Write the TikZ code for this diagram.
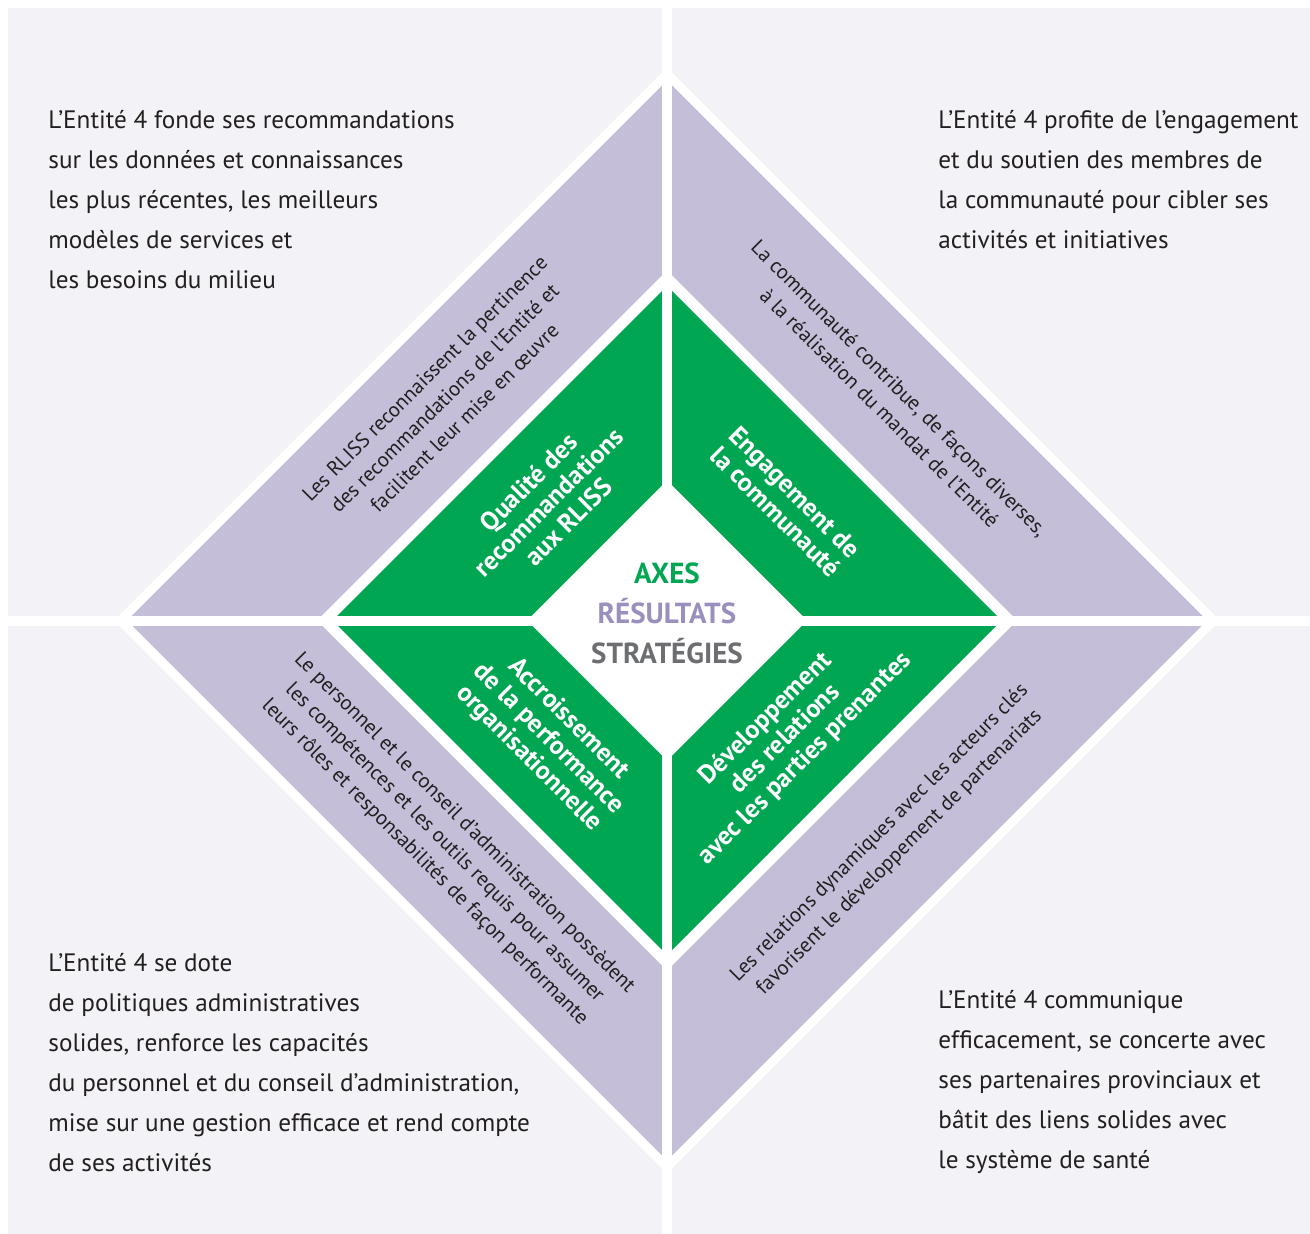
\documentclass[tikz,border=0pt]{standalone}
\usepackage{fontspec}
\setmainfont{PT Sans}
\usetikzlibrary{positioning}
\definecolor{fond}{RGB}{243,242,247}
\definecolor{bande}{RGB}{197,190,217}
\definecolor{axe}{RGB}{0,166,81}
\definecolor{resultat}{RGB}{155,143,190}
\definecolor{strategie}{RGB}{109,110,113}
\definecolor{texte}{RGB}{35,31,32}

\begin{document}
\begin{tikzpicture}[x=0.5pt,y=-0.5pt,
  coin/.style={anchor=north west,inner sep=0pt,align=left,text=texte,font=\fontsize{12.6}{20}\selectfont},
  bandtxt/.style={inner sep=0pt,align=center,text=texte,font=\fontsize{10.4}{14}\selectfont},
  axetxt/.style={inner sep=0pt,align=center,text=white,font=\bfseries\fontsize{13}{14}\selectfont}]

        \useasboundingbox (0,0) rectangle (1310,1234);
        \coordinate (O) at (667,620.5);

        \fill[fond] (8,8) rectangle (1310,1234);
        \foreach \r/\c in {553/white,540/bande,350/white,334.5/axe,140/white}
          \fill[\c] (O) ++(0,-\r) -- ++(\r,\r) -- ++(-\r,\r) -- ++(-\r,-\r) -- cycle;
        \draw[white,line width=5pt] (667,0) -- (667,1234) (0,620.5) -- (1310,620.5);

        \node[coin] (TL) at (48,109.5) {L’Entité 4 fonde ses recommandations\\sur les données et connaissances\\les plus récentes, les meilleurs\\modèles de services et\\les besoins du milieu};
        \node[coin] (TR) at (938,109.5) {L’Entité 4 profite de l’engagement\\et du soutien des membres de\\la communauté pour cibler ses\\activités et initiatives};
        \node[coin,anchor=south west] (BL) at (48,1172) {L’Entité 4 se dote\\de politiques administratives\\solides, renforce les capacités\\du personnel et du conseil d’administration,\\mise sur une gestion efficace et rend compte\\de ses activités};
        \node[coin,anchor=south west] (BR) at (938,1174) {L’Entité 4 communique\\efficacement, se concerte avec\\ses partenaires provinciaux et\\bâtit des liens solides avec\\le système de santé};

        \node[bandtxt,rotate=45] (RL) at ([shift={(-222.5,-222.5)}]O) {Les RLISS reconnaissent la pertinence\\des recommandations de l’Entité et\\facilitent leur mise en œuvre};
        \node[bandtxt,rotate=-45] (CO) at ([shift={(222.5,-222.5)}]O) {La communauté contribue, de façons diverses,\\à la réalisation du mandat de l’Entité};
        \node[bandtxt,rotate=-45] (PE) at ([shift={(-222.5,222.5)}]O) {Le personnel et le conseil d’administration possèdent\\les compétences et les outils requis pour assumer\\leurs rôles et responsabilités de façon performante};
        \node[bandtxt,rotate=45] (PA) at ([shift={(222.5,222.5)}]O) {Les relations dynamiques avec les acteurs clés\\favorisent le développement de partenariats};

        \node[axetxt,rotate=45] (QU) at ([shift={(-118.5,-118.5)}]O) {Qualité des\\recommandations\\aux RLISS};
        \node[axetxt,rotate=-45] (EN) at ([shift={(118.5,-118.5)}]O) {Engagement de\\la communauté};
        \node[axetxt,rotate=-45] (AC) at ([shift={(-118.5,118.5)}]O) {Accroissement\\de la performance\\organisationnelle};
        \node[axetxt,rotate=45] (DE) at ([shift={(118.5,118.5)}]O) {Développement\\des relations\\avec les parties prenantes};

        \node[inner sep=0pt,align=center,font=\bfseries\fontsize{14.5}{20}\selectfont] (AX) at (667,613) {\textcolor{axe}{AXES}\\\textcolor{resultat}{RÉSULTATS}\\\textcolor{strategie}{STRATÉGIES}};
      \end{tikzpicture}
\end{document}
